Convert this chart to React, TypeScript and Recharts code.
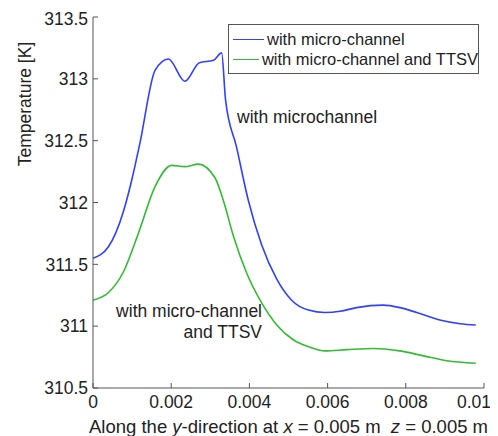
import { LineChart, Line, XAxis, YAxis } from "recharts";

const positions = [
  0, 0.00039, 0.00078, 0.00099, 0.0012, 0.00159, 0.00193, 0.00235, 0.00272, 0.00308,
  0.00329, 0.00339, 0.00367, 0.00397, 0.00431, 0.0047, 0.00508, 0.00551, 0.00593,
  0.00632, 0.00674, 0.00742, 0.00785, 0.00828, 0.00887, 0.00939, 0.00979,
];
const microChannel = [
  311.55, 311.64, 311.93, 312.18, 312.48, 313.07, 313.16, 312.98, 313.13, 313.15,
  313.21, 312.83, 312.45, 312.02, 311.66, 311.38, 311.21, 311.13, 311.11,
  311.12, 311.15, 311.17, 311.15, 311.11, 311.05, 311.02, 311.01,
];

const ttsvPositions = [
  0, 0.00039, 0.00078, 0.00116, 0.00159, 0.00201, 0.00235, 0.00269, 0.00312, 0.00333,
  0.00359, 0.00393, 0.00431, 0.0047, 0.00512, 0.00555, 0.00593, 0.00649, 0.00717,
  0.00785, 0.00845, 0.00905, 0.00979,
];
const withTtsv = [
  311.21, 311.27, 311.44, 311.75, 312.13, 312.3, 312.29, 312.31, 312.2, 312.02,
  311.73, 311.43, 311.19, 311.01, 310.89, 310.83, 310.8, 310.81, 310.82,
  310.8, 310.76, 310.72, 310.7,
];

const xTicks = [0, 0.002, 0.004, 0.006, 0.008, 0.01];
const yTicks = [310.5, 311, 311.5, 312, 312.5, 313, 313.5];

const blueData = positions.map((y, i) => ({ y, t: microChannel[i] }));
const greenData = ttsvPositions.map((y, i) => ({ y, t: withTtsv[i] }));

const font = "Arial, 'Liberation Sans', sans-serif";
const axisColor = "#555";
const textColor = "#222";
const tickStyle = { fontSize: 17.5, fill: textColor, fontFamily: font };

// x tick labels, last one pulled in a bit like the original figure
function XTick(props: any) {
  const { x, y, payload } = props;
  const shift = payload.value === 0.01 ? -10 : 0;
  return (
    <text x={x + shift} y={y} dy="0.71em" textAnchor="middle" {...tickStyle}>
      {String(payload.value)}
    </text>
  );
}

export default function App() {
  return (
    <div style={{ position: "relative", width: 490, height: 428, fontFamily: font, color: textColor }}>
      <LineChart width={490} height={428} margin={{ top: 9, right: 14, bottom: 18, left: 25 }}>
        <XAxis
          xAxisId="b"
          dataKey="y"
          type="number"
          domain={[0, 0.01]}
          ticks={xTicks}
          tickSize={-5}
          tickMargin={13}
          height={30}
          stroke={axisColor}
          tick={<XTick />}
          allowDuplicatedCategory={false}
        />
        <XAxis
          xAxisId="t"
          orientation="top"
          dataKey="y"
          type="number"
          domain={[0, 0.01]}
          ticks={xTicks}
          tickFormatter={() => ""}
          tickSize={-5}
          height={0}
          stroke={axisColor}
        />
        <YAxis
          yAxisId="l"
          type="number"
          domain={[310.5, 313.5]}
          ticks={yTicks}
          tickSize={-5}
          tickMargin={10}
          width={60}
          stroke={axisColor}
          tick={tickStyle}
        />
        <YAxis
          yAxisId="r"
          orientation="right"
          type="number"
          domain={[310.5, 313.5]}
          ticks={yTicks}
          tickFormatter={() => ""}
          tickSize={-5}
          width={0}
          stroke={axisColor}
        />
        <Line
          xAxisId="b"
          yAxisId="l"
          data={blueData}
          dataKey="t"
          type="monotone"
          stroke="#2f40ff"
          strokeWidth={1.6}
          dot={false}
          isAnimationActive={false}
        />
        <Line
          xAxisId="b"
          yAxisId="l"
          data={greenData}
          dataKey="t"
          type="monotone"
          stroke="#33bb33"
          strokeWidth={1.6}
          dot={false}
          isAnimationActive={false}
        />
      </LineChart>

      {/* legend box */}
      <div
        style={{
          position: "absolute",
          left: 220,
          top: 16,
          width: 251,
          height: 50,
          border: "1px solid #555",
          background: "#fff",
          fontSize: 16.5,
          lineHeight: "20px",
          padding: "4px 0 0 4px",
          boxSizing: "border-box",
        }}
      >
        {[
          { label: "with micro-channel", color: "#2f40ff" },
          { label: "with micro-channel and TTSV", color: "#33bb33" },
        ].map((item) => (
          <div key={item.label} style={{ display: "flex", alignItems: "center", whiteSpace: "nowrap" }}>
            <span style={{ display: "inline-block", width: 31, height: 0, borderTop: `1.6px solid ${item.color}`, marginRight: 3 }} />
            {item.label}
          </div>
        ))}
      </div>

      <div style={{ position: "absolute", left: 229, top: 99, fontSize: 17.5 }}>with microchannel</div>
      <div style={{ position: "absolute", right: 236, top: 293, fontSize: 17.5, textAlign: "right", lineHeight: "21px" }}>
        with micro-channel
        <br />
        and TTSV
      </div>

      <div
        style={{
          position: "absolute",
          left: 17,
          top: 96,
          fontSize: 17.5,
          whiteSpace: "nowrap",
          transform: "translate(-50%, -50%) rotate(-90deg)",
        }}
      >
        Temperature [K]
      </div>

      <div style={{ position: "absolute", left: 81, top: 408, fontSize: 18.5, whiteSpace: "nowrap" }}>
        Along the <i>y</i>-direction at <i>x</i> = 0.005 m&nbsp; <i>z</i> = 0.005 m
      </div>
    </div>
  );
}
